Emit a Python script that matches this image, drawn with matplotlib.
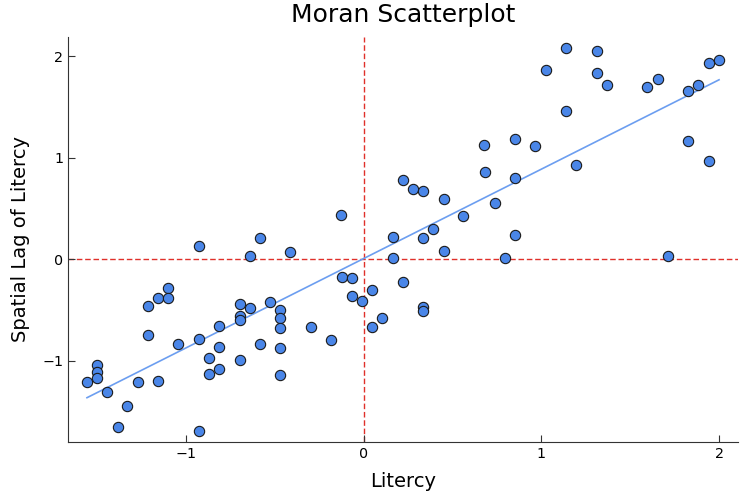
import numpy as np
import matplotlib
matplotlib.use('Agg')
import matplotlib.pyplot as plt

# Standardized literacy values and their spatial lag
literacy = [
    -1.557, -1.501, -1.501, -1.501, -1.443, -1.385, -1.329, -1.270, -1.214, -1.214,
    -1.158, -1.158, -1.100, -1.100, -1.043, -0.927, -0.927, -0.927, -0.869, -0.869,
    -0.813, -0.813, -0.813, -0.698, -0.698, -0.698, -0.698, -0.640, -0.640, -0.584,
    -0.583, -0.414, -0.527, -0.469, -0.469, -0.469, -0.469, -0.469, -0.298, -0.182,
    -0.124, -0.065, -0.065, -0.009, 0.047, 0.047, 0.105, 0.220, 0.162, 0.162,
    0.334, 0.334, 0.334, 0.392, 0.449, -0.126, 0.222, 0.278, 0.334, 0.449,
    0.680, 0.738, 0.561, 1.136, 1.310, 1.023, 1.310, 1.368, 1.596, 1.654,
    1.827, 1.883, 1.941, 1.999, 1.136, 0.678, 0.852, 0.965, 0.852, 1.194,
    1.827, 1.941, 0.852, 0.794, 1.710,
]
lag_literacy = [
    -1.209, -1.045, -1.114, -1.173, -1.305, -1.655, -1.442, -1.209, -0.459, -0.750,
    -0.377, -1.200, -0.285, -0.377, -0.839, 0.133, -0.787, -1.688, -0.976, -1.128,
    -0.659, -0.868, -1.079, -0.445, -0.558, -0.600, -0.993, -0.479, 0.034, -0.839,
    0.213, 0.076, -0.423, -0.501, -0.580, -0.681, -0.878, -1.138, -0.669, -0.794,
    -0.174, -0.187, -0.364, -0.416, -0.305, -0.669, -0.583, -0.226, 0.219, 0.013,
    0.213, -0.472, -0.508, 0.302, 0.082, 0.440, 0.784, 0.695, 0.669, 0.597,
    0.858, 0.551, 0.423, 2.078, 2.052, 1.865, 1.832, 1.714, 1.701, 1.777,
    1.655, 1.714, 1.937, 1.964, 1.458, 1.128, 1.190, 1.114, 0.803, 0.931,
    1.163, 0.964, 0.236, 0.010, 0.036,
]

x = np.array(literacy)
y = np.array(lag_literacy)

# least squares fit through the cloud
slope, intercept = np.polyfit(x, y, 1)
xs = np.array([x.min(), x.max()])

fig = plt.figure(figsize=(7.49, 4.97), dpi=100)
ax = fig.add_axes([0.0908, 0.1107, 0.8945, 0.8149])

ax.scatter(x, y, s=55, color='#4a86e8', edgecolors='#1a1a1a', linewidths=0.8, zorder=3)
ax.plot(xs, intercept + slope * xs, color='#6c9ef0', lw=1.2, zorder=2)
ax.axhline(0, color='#e0302a', ls=(0, (4, 2)), lw=1.0, zorder=1)
ax.axvline(0, color='#e0302a', ls=(0, (4, 2)), lw=1.0, zorder=1)

# Plots.jl style: 3% margin around the data
xr = x.max() - x.min()
yr = y.max() - y.min()
ax.set_xlim(x.min() - 0.03 * xr, x.max() + 0.03 * xr)
ax.set_ylim(y.min() - 0.03 * yr, y.max() + 0.03 * yr)
ax.set_xticks([-1, 0, 1, 2])
ax.set_yticks([-1, 0, 1, 2])
ax.set_xticklabels(['\u22121', '0', '1', '2'])
ax.set_yticklabels(['\u22121', '0', '1', '2'])

ax.spines['top'].set_visible(False)
ax.spines['right'].set_visible(False)
for s in ['left', 'bottom']:
    ax.spines[s].set_color('#333333')
ax.tick_params(direction='in', length=5, labelsize=10.3, colors='#333333', labelcolor='black')

ax.set_title('Moran Scatterplot', fontsize=18, pad=11)
ax.set_xlabel('Litercy', fontsize=14, labelpad=8)
ax.set_ylabel('Spatial Lag of Litercy', fontsize=14, labelpad=9)

fig.savefig('out.png', dpi=100)
